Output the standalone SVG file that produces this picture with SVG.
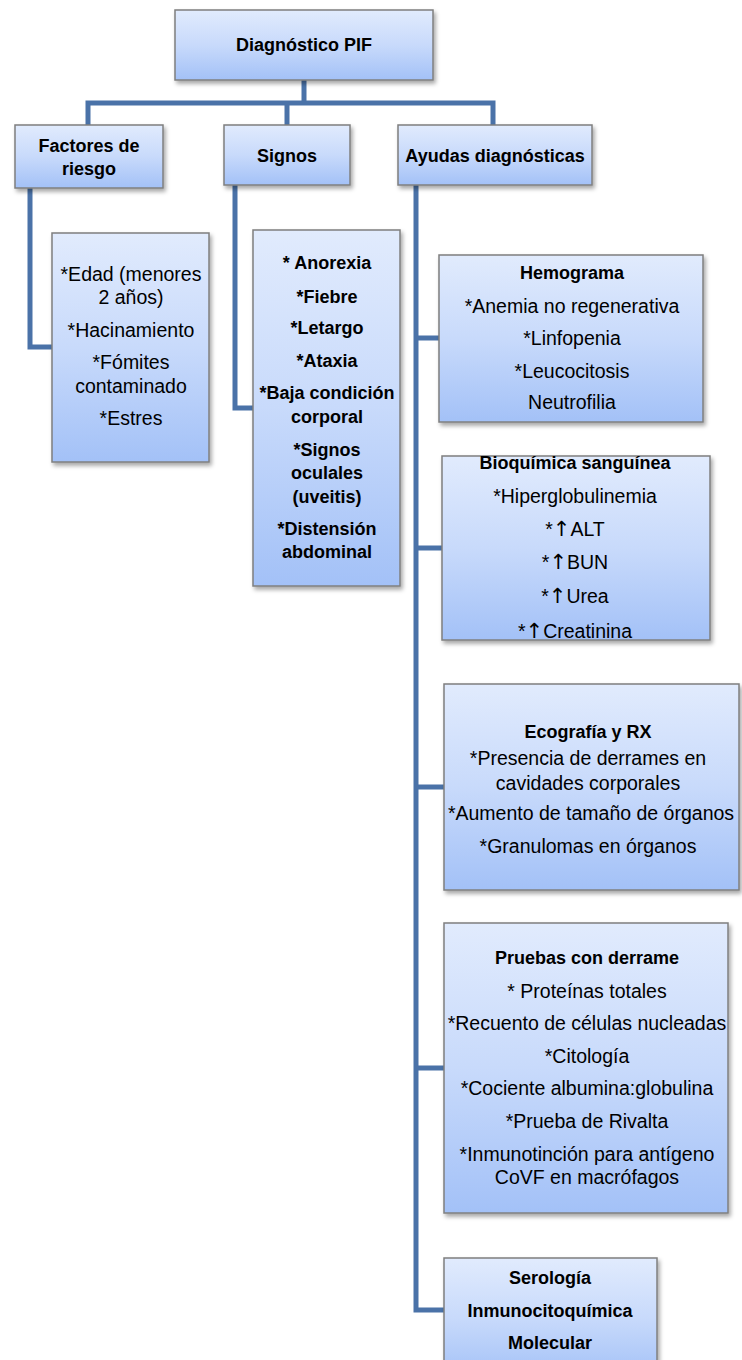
<svg xmlns="http://www.w3.org/2000/svg" width="742" height="1360" viewBox="0 0 742 1360">
<defs>
<linearGradient id="g" x1="0" y1="0" x2="0" y2="1">
<stop offset="0" stop-color="#e1ebfd"/>
<stop offset="0.5" stop-color="#c8dafb"/>
<stop offset="1" stop-color="#a3c1f7"/>
</linearGradient>
<filter id="sh" x="-10%" y="-10%" width="125%" height="125%">
<feDropShadow dx="2" dy="3" stdDeviation="2" flood-color="#000" flood-opacity="0.35"/>
</filter>
</defs>
<style>
.box{fill:url(#g);stroke:#7f7f7f;stroke-width:1.5;filter:url(#sh)}
.t{font-family:"Liberation Sans",Arial,sans-serif;font-size:19.5px;fill:#000;text-anchor:middle}
.b{font-family:"Liberation Sans",Arial,sans-serif;font-size:18px;font-weight:bold;fill:#000;text-anchor:middle}
.c{fill:none;stroke:#4a72a8;stroke-width:5;stroke-linejoin:miter}
.ar{font-family:"DejaVu Sans",sans-serif;font-size:21px}
</style>
<g id="connectors">
<path class="c" d="M304 80 V103 M88 125 V103 H493 V125 M287 103 V125"/>
<path class="c" d="M30 188 V347 H52"/>
<path class="c" d="M235 185 V408 H253"/>
<path class="c" d="M416 185 V1310 H444 M416 338 H439 M416 548 H442 M416 787 H444 M416 1068 H444"/>
</g>
<g id="diagnostico">
<rect class="box" x="175" y="10" width="258" height="70"/>
<text class="b" x="304" y="51">Diagnóstico PIF</text>
</g>
<g id="factores">
<rect class="box" x="15" y="125" width="148" height="63"/>
<text class="b" x="89" y="152">Factores de</text>
<text class="b" x="89" y="175">riesgo</text>
</g>
<g id="signos">
<rect class="box" x="224" y="125" width="126" height="60"/>
<text class="b" x="287" y="162">Signos</text>
</g>
<g id="ayudas">
<rect class="box" x="398" y="125" width="194" height="60"/>
<text class="b" x="495" y="162">Ayudas diagnósticas</text>
</g>
<g id="factores-lista">
<rect class="box" x="52" y="233" width="157" height="229"/>
<text class="t" x="131" y="281">*Edad (menores</text>
<text class="t" x="131" y="304">2 años)</text>
<text class="t" x="131" y="337">*Hacinamiento</text>
<text class="t" x="131" y="369">*Fómites</text>
<text class="t" x="131" y="393">contaminado</text>
<text class="t" x="131" y="425">*Estres</text>
</g>
<g id="signos-lista">
<rect class="box" x="253" y="230" width="147" height="356"/>
<text class="b" x="327" y="269">* Anorexia</text>
<text class="b" x="327" y="303">*Fiebre</text>
<text class="b" x="327" y="334">*Letargo</text>
<text class="b" x="327" y="367">*Ataxia</text>
<text class="b" x="327" y="399">*Baja condición</text>
<text class="b" x="327" y="423">corporal</text>
<text class="b" x="327" y="456">*Signos</text>
<text class="b" x="327" y="479">oculales</text>
<text class="b" x="327" y="503">(uveitis)</text>
<text class="b" x="327" y="535">*Distensión</text>
<text class="b" x="327" y="558">abdominal</text>
</g>
<g id="hemograma">
<rect class="box" x="439" y="255" width="264" height="167"/>
<text class="b" x="572" y="279">Hemograma</text>
<text class="t" x="572" y="313">*Anemia no regenerativa</text>
<text class="t" x="572" y="345">*Linfopenia</text>
<text class="t" x="572" y="378">*Leucocitosis</text>
<text class="t" x="572" y="409">Neutrofilia</text>
</g>
<g id="bioquimica">
<rect class="box" x="442" y="456" width="268" height="184"/>
<text class="b" x="575" y="469">Bioquímica sanguínea</text>
<text class="t" x="575" y="503">*Hiperglobulinemia</text>
<text class="t" x="575" y="536">*<tspan class="ar">↑</tspan>ALT</text>
<text class="t" x="575" y="569">*<tspan class="ar">↑</tspan>BUN</text>
<text class="t" x="575" y="603">*<tspan class="ar">↑</tspan>Urea</text>
<text class="t" x="575" y="638">*<tspan class="ar">↑</tspan>Creatinina</text>
</g>
<g id="ecografia">
<rect class="box" x="444" y="684" width="295" height="206"/>
<text class="b" x="588" y="738">Ecografía y RX</text>
<text class="t" x="588" y="765">*Presencia de derrames en</text>
<text class="t" x="588" y="790">cavidades corporales</text>
<text class="t" x="591" y="820">*Aumento de tamaño de órganos</text>
<text class="t" x="588" y="853">*Granulomas en órganos</text>
</g>
<g id="pruebas">
<rect class="box" x="444" y="923" width="284" height="290"/>
<text class="b" x="587" y="964">Pruebas con derrame</text>
<text class="t" x="587" y="998">* Proteínas totales</text>
<text class="t" x="587" y="1030">*Recuento de células nucleadas</text>
<text class="t" x="587" y="1063">*Citología</text>
<text class="t" x="587" y="1095">*Cociente albumina:globulina</text>
<text class="t" x="587" y="1128">*Prueba de Rivalta</text>
<text class="t" x="587" y="1161">*Inmunotinción para antígeno</text>
<text class="t" x="587" y="1184">CoVF en macrófagos</text>
</g>
<g id="serologia">
<rect class="box" x="444" y="1258" width="213" height="120"/>
<text class="b" x="550" y="1284">Serología</text>
<text class="b" x="550" y="1317">Inmunocitoquímica</text>
<text class="b" x="550" y="1349">Molecular</text>
</g>
</svg>
